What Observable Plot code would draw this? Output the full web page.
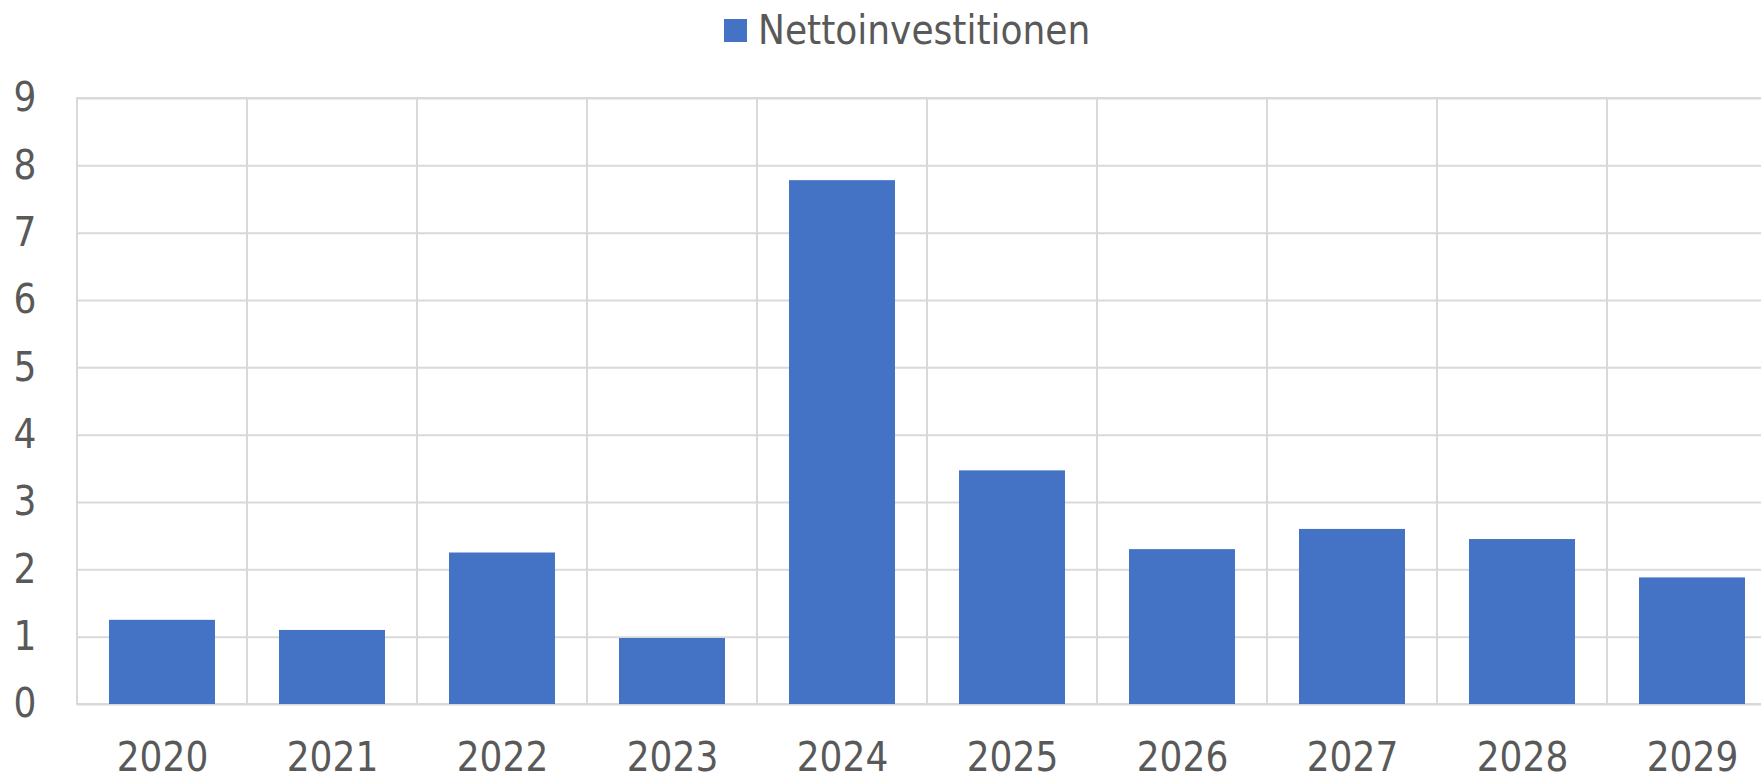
<!DOCTYPE html>
<html><head><meta charset="utf-8">
<script src="https://cdn.jsdelivr.net/npm/d3@7"></script>
<script src="https://cdn.jsdelivr.net/npm/@observablehq/plot@0.6"></script>
<style>
html,body{margin:0;padding:0;background:#fff;overflow:hidden;width:1761px;height:781px;}
#legend{height:60px;display:flex;align-items:center;padding-left:724px;box-sizing:border-box;font-family:"DejaVu Sans Condensed","DejaVu Sans",sans-serif;font-stretch:condensed;font-size:40px;color:#595959;white-space:nowrap;}
#legend .sw{width:23px;height:23px;background:#4472c4;margin-right:11px;flex:none;}
#chart{width:1761px;overflow:hidden;}
#chart svg{display:block;max-width:none !important;}
</style></head>
<body>
<div id="legend"><span class="sw"></span><span>Nettoinvestitionen</span></div>
<div id="chart"></div>
<script>
const years = ["2020","2021","2022","2023","2024","2025","2026","2027","2028","2029"];
const values = [1.25, 1.10, 2.25, 0.98, 7.78, 3.47, 2.30, 2.60, 2.45, 1.88];
const yTicks = [0,1,2,3,4,5,6,7,8,9];
const seriesName = "Nettoinvestitionen";
const data = years.map((year, i) => ({year, value: values[i], series: seriesName}));

const chart = Plot.plot({
  width: 1777,
  height: 721,
  marginTop: 38,
  marginBottom: 77,
  marginLeft: 77,
  marginRight: 0,
  style: {
    fontFamily: '"DejaVu Sans Condensed","DejaVu Sans",sans-serif',
    fontStretch: "condensed",
    fontSize: "40px",
    color: "#595959",
    background: "white",
    maxWidth: "none",
    overflow: "visible"
  },
  x: {domain: years, padding: 0, label: null, tickSize: 0, tickPadding: 38},
  y: {domain: [0, 9], ticks: yTicks, label: null, tickSize: 0, tickPadding: 41, tickFormat: d3.format("d")},
  marks: [
    Plot.ruleY(yTicks, {y: d => d, stroke: "#d9d9d9", strokeWidth: 2}),
    Plot.barY(years, {x: d => d, y1: 0, y2: 9, fill: "none", stroke: "#d9d9d9", strokeWidth: 2}),
    Plot.barY(data, {x: "year", y: "value", fill: "#4472c4", insetLeft: 32, insetRight: 32})
  ]
});
document.getElementById("chart").appendChild(chart);
</script>
</body></html>
